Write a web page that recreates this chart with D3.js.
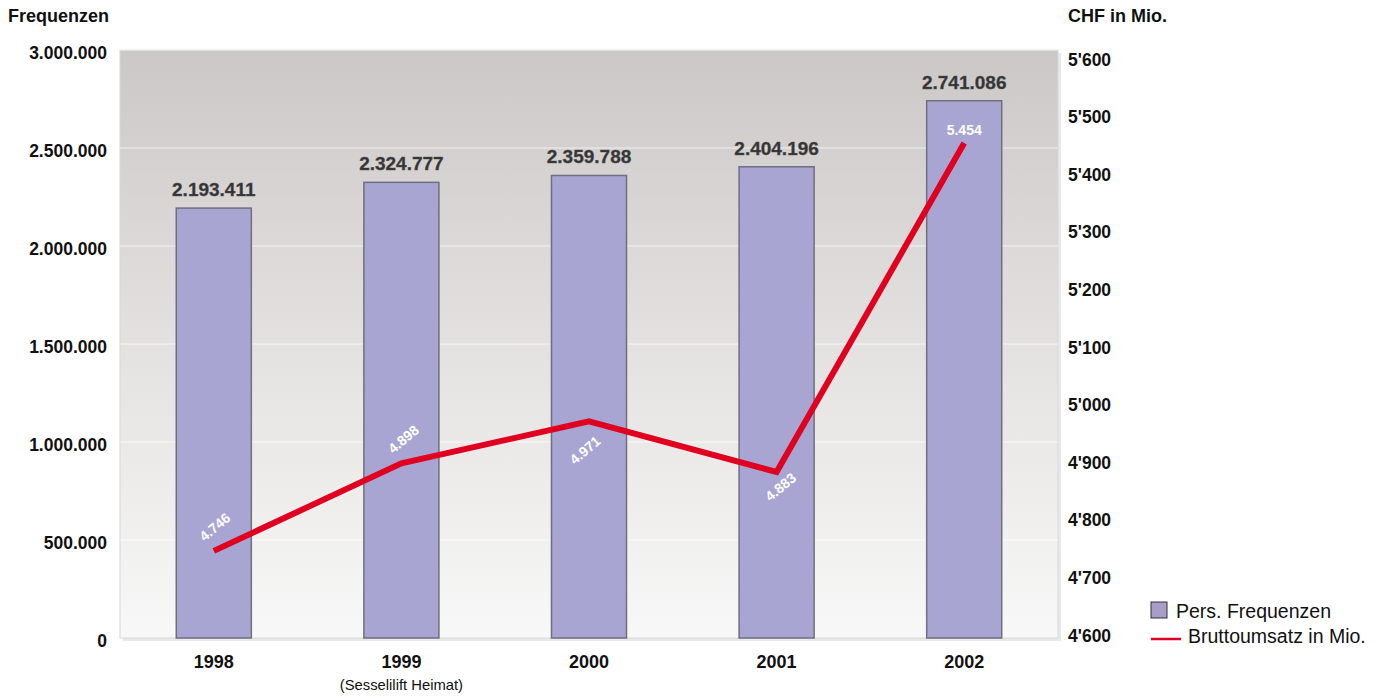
<!DOCTYPE html>
<html>
<head>
<meta charset="utf-8">
<script src="https://cdn.jsdelivr.net/npm/d3@7"></script>
<style>
  body { margin: 0; background: #fff; }
  svg { font-family: "Liberation Sans", Arial, sans-serif; display: block; }
</style>
</head>
<body>
<svg width="1388" height="696"></svg>
<script>
// Data
const years = ['1998', '1999', '2000', '2001', '2002'];
const yearNotes = ['', '(Sesselilift Heimat)', '', '', ''];
const frequenzen = [2193411, 2324777, 2359788, 2404196, 2741086];
const umsatz = [4746, 4898, 4971, 4883, 5454];
const leftTicks = [0, 500000, 1000000, 1500000, 2000000, 2500000, 3000000];
const rightTicks = [4600, 4700, 4800, 4900, 5000, 5100, 5200, 5300, 5400, 5500, 5600];

// Constants
const svg = d3.select('svg');
const margin = { top: 50, right: 330, bottom: 58, left: 120 };
const width = +svg.attr('width');
const height = +svg.attr('height');
const inner_width = width - margin.left - margin.right;
const inner_height = height - margin.top - margin.bottom;
const font = '"Liberation Sans", Arial, sans-serif';

const fmtDot = d => d3.format(',')(d).replace(/,/g, '.');
const fmtApos = d => d3.format(',')(d).replace(/,/g, "'");

const xScale = d3.scaleBand()
    .domain(years)
    .range([0, inner_width])
    .paddingInner(0.6)
    .paddingOuter(0.3);
const yLeft = d3.scaleLinear().domain([0, 3000000]).range([inner_height, 0]);
const yRight = d3.scaleLinear().domain([4600, 5600]).range([inner_height - 3, 9]);

const defs = svg.append('defs');
const bg = defs.append('linearGradient')
    .attr('id', 'bg').attr('x1', 0).attr('y1', 0).attr('x2', 0).attr('y2', 1);
bg.append('stop').attr('offset', '0%').attr('stop-color', '#cbc8c7');
bg.append('stop').attr('offset', '55%').attr('stop-color', '#e6e4e2');
bg.append('stop').attr('offset', '100%').attr('stop-color', '#f8f8f8');

const chart = svg.append('g')
    .attr('transform', `translate(${margin.left}, ${margin.top})`);

// Plot area with soft shadow
chart.append('rect')
    .attr('x', 3).attr('y', 3)
    .attr('width', inner_width).attr('height', inner_height)
    .attr('fill', '#e9e9e9');
chart.append('rect')
    .attr('width', inner_width).attr('height', inner_height)
    .attr('fill', 'url(#bg)')
    .attr('stroke', '#d8d8d8');

// Gridlines
chart.selectAll('.grid')
    .data(leftTicks.slice(1))
    .enter().append('line')
    .attr('x1', 0).attr('x2', inner_width)
    .attr('y1', d => yLeft(d)).attr('y2', d => yLeft(d))
    .attr('stroke', '#ffffff')
    .attr('stroke-opacity', 0.45)
    .attr('stroke-width', 1.5);

// Bars
chart.selectAll('.bar')
    .data(years)
    .enter().append('rect')
    .attr('x', d => xScale(d))
    .attr('y', (d, i) => yLeft(frequenzen[i]))
    .attr('width', xScale.bandwidth())
    .attr('height', (d, i) => inner_height - yLeft(frequenzen[i]))
    .attr('fill', '#a8a5d2')
    .attr('stroke', '#6f6f80')
    .attr('stroke-width', 1.5);

// Bar labels
chart.selectAll('.barlabel')
    .data(years)
    .enter().append('text')
    .attr('x', d => xScale(d) + xScale.bandwidth() / 2)
    .attr('y', (d, i) => yLeft(frequenzen[i]) - 12)
    .attr('text-anchor', 'middle')
    .attr('font-size', '19px')
    .attr('font-weight', 'bold')
    .attr('fill', '#333')
    .attr('stroke', '#555').attr('stroke-width', 0.4)
    .text((d, i) => fmtDot(frequenzen[i]));

// Line
const line = d3.line()
    .x((d, i) => xScale(years[i]) + xScale.bandwidth() / 2)
    .y(d => yRight(d));
chart.append('path')
    .datum(umsatz)
    .attr('d', line)
    .attr('fill', 'none')
    .attr('stroke', '#e0001f')
    .attr('stroke-width', 6)
    .attr('stroke-linejoin', 'miter');

// Line labels
const labelOffsets = [
    { dx: 1, dy: -24, rot: -40 },
    { dx: 2, dy: -24, rot: -40 },
    { dx: -4, dy: 29, rot: -40 },
    { dx: 4, dy: 15, rot: -40 },
    { dx: 0, dy: -13, rot: 0 }
];
chart.selectAll('.linelabel')
    .data(umsatz)
    .enter().append('text')
    .attr('transform', (d, i) => {
        const x = xScale(years[i]) + xScale.bandwidth() / 2 + labelOffsets[i].dx;
        const y = yRight(d) + labelOffsets[i].dy;
        return `translate(${x}, ${y}) rotate(${labelOffsets[i].rot})`;
    })
    .attr('text-anchor', 'middle')
    .attr('dy', '.35em')
    .attr('font-size', '14px')
    .attr('font-weight', 'bold')
    .attr('fill', '#ffffff')
    .text(d => fmtDot(d));

// Left axis
chart.append('g')
    .call(d3.axisLeft(yLeft).tickValues(leftTicks).tickFormat(fmtDot).tickSize(0).tickPadding(13))
    .call(g => g.select('.domain').remove())
    .selectAll('text')
    .attr('dy', '0.5em')
    .attr('font-size', '17.5px')
    .attr('font-weight', 'bold')
    .attr('fill', '#111')
    .attr('font-family', font);

// Right axis
chart.append('g')
    .attr('transform', `translate(${inner_width}, 0)`)
    .call(d3.axisRight(yRight).tickValues(rightTicks).tickFormat(fmtApos).tickSize(0).tickPadding(10))
    .call(g => g.select('.domain').remove())
    .selectAll('text')
    .attr('dy', '0.35em')
    .attr('font-size', '17.5px')
    .attr('font-weight', 'bold')
    .attr('fill', '#111')
    .attr('font-family', font);

// X axis
const xAxis = chart.append('g')
    .attr('transform', `translate(0, ${inner_height})`)
    .call(d3.axisBottom(xScale).tickSize(0).tickPadding(17))
    .call(g => g.select('.domain').remove());
xAxis.selectAll('text')
    .attr('font-size', '18px')
    .attr('font-weight', 'bold')
    .attr('fill', '#111')
    .attr('font-family', font);
chart.selectAll('.note')
    .data(years)
    .enter().append('text')
    .attr('x', d => xScale(d) + xScale.bandwidth() / 2)
    .attr('y', inner_height + 52)
    .attr('text-anchor', 'middle')
    .attr('font-size', '14.8px')
    .attr('fill', '#111')
    .text((d, i) => yearNotes[i]);

// Axis titles
svg.append('text')
    .attr('x', 8).attr('y', 22)
    .attr('font-size', '18px').attr('font-weight', 'bold').attr('fill', '#111')
    .text('Frequenzen');
svg.append('text')
    .attr('x', 1068).attr('y', 22)
    .attr('font-size', '18px').attr('font-weight', 'bold').attr('fill', '#111')
    .text('CHF in Mio.');

// Legend
const legend = svg.append('g').attr('transform', 'translate(1151, 602)');
legend.append('rect')
    .attr('width', 16).attr('height', 16)
    .attr('fill', '#a89cc8').attr('stroke', '#333').attr('stroke-width', 1);
legend.append('text')
    .attr('x', 25).attr('y', 16)
    .attr('font-size', '19.5px').attr('fill', '#111')
    .text('Pers. Frequenzen');
legend.append('line')
    .attr('x1', 0).attr('x2', 30).attr('y1', 37).attr('y2', 37)
    .attr('stroke', '#e0001f').attr('stroke-width', 2.5);
legend.append('text')
    .attr('x', 37).attr('y', 41)
    .attr('font-size', '19.5px').attr('fill', '#111')
    .text('Bruttoumsatz in Mio.');
</script>
</body>
</html>
